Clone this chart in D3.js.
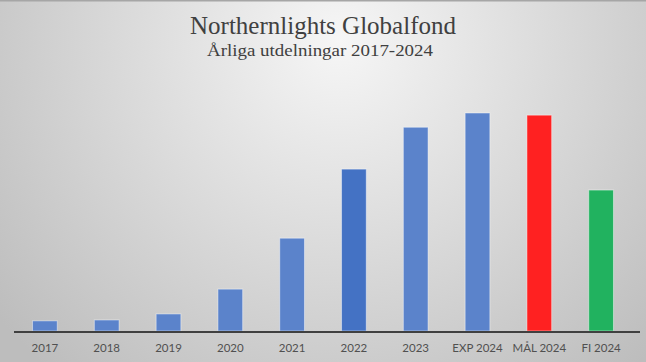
<!DOCTYPE html>
<html>
<head>
<meta charset="utf-8">
<script src="https://cdn.jsdelivr.net/npm/d3@7"></script>
<style>
  body { margin: 0; }
  svg { display: block; }
</style>
</head>
<body>
<div id="chart"></div>
<script>
// data (approx, same unit for all bars)
const categories = ["2017", "2018", "2019", "2020", "2021", "2022", "2023", "EXP 2024", "MÅL 2024", "FI 2024"]
const values = [4.7, 5.1, 7.9, 19.4, 43, 75, 94.4, 101, 100, 65.3]
const barColors = ["#5b83cb", "#5b83cb", "#5b83cb", "#5b83cb", "#5b83cb", "#4472c4", "#5b83cb", "#5b83cb", "#ff2121", "#21b25f"]

const width = 646, height = 362
const margin = {top: 113, right: 14, bottom: 31, left: 14}

const svg = d3.select("#chart").append("svg")
  .attr("width", width)
  .attr("height", height)

const defs = svg.append("defs")
const grad = defs.append("radialGradient")
  .attr("id", "bg")
  .attr("gradientUnits", "userSpaceOnUse")
  .attr("cx", 340).attr("cy", 40)
  .attr("r", 440)
grad.append("stop").attr("offset", "0%").attr("stop-color", "#f6f6f6")
grad.append("stop").attr("offset", "100%").attr("stop-color", "#bdbdbd")

svg.append("rect").attr("width", width).attr("height", height).attr("fill", "url(#bg)")
svg.append("rect").attr("width", width).attr("height", 1.5).attr("fill", "#a6a6a6")

// titles
svg.append("text")
  .attr("x", 190).attr("y", 34)
  .attr("textLength", 266)
  .attr("lengthAdjust", "spacingAndGlyphs")
  .style("font-family", "'Liberation Serif', serif")
  .style("font-size", "25px")
  .attr("fill", "#404040")
  .text("Northernlights Globalfond")
svg.append("text")
  .attr("x", 207).attr("y", 55.5)
  .attr("textLength", 226)
  .attr("lengthAdjust", "spacingAndGlyphs")
  .style("font-family", "'Liberation Serif', serif")
  .style("font-size", "17px")
  .attr("fill", "#404040")
  .text("Årliga utdelningar 2017-2024")

const x = d3.scaleBand()
  .domain(categories)
  .range([margin.left, width - margin.right])
  .paddingInner(0.6)
  .paddingOuter(0.3)

const y = d3.scaleLinear()
  .domain([0, 101])
  .range([height - margin.bottom, margin.top])

const data = categories.map((c, i) => ({cat: c, v: values[i], color: barColors[i]}))

svg.selectAll(".bar")
  .data(data)
  .enter().append("rect")
  .attr("class", "bar")
  .attr("x", d => x(d.cat))
  .attr("y", d => y(d.v))
  .attr("width", x.bandwidth())
  .attr("height", d => y(0) - y(d.v))
  .attr("fill", d => d.color)
  .attr("stroke", "rgba(255,255,255,0.45)")
  .attr("stroke-width", 1)

const xAxis = svg.append("g")
  .attr("transform", `translate(0,${y(0) + 1})`)
  .call(d3.axisBottom(x).tickSize(0).tickPadding(12))
xAxis.select(".domain")
  .attr("d", `M${margin.left},0H${width - 6}`)
  .attr("stroke", "#404040")
  .attr("stroke-width", 2)
xAxis.selectAll("text")
  .style("font-family", "Lato, 'Open Sans', sans-serif")
  .style("font-size", "11.5px")
  .attr("fill", "#505050")
</script>
</body>
</html>
